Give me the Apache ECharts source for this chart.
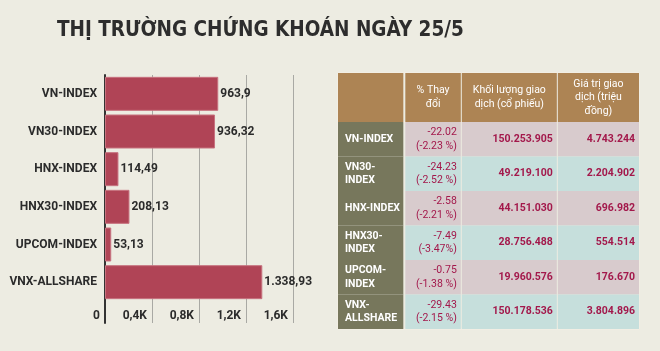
<!DOCTYPE html>
<html>
<head>
<meta charset="utf-8">
<script src="https://cdn.jsdelivr.net/npm/echarts@6/dist/echarts.min.js"></script>
<style>
html,body{margin:0;padding:0;background:#edece2;}
#main{width:660px;height:351px;}
</style>
</head>
<body>
<div id="main"></div>
<script>
var title = 'THỊ TRƯỜNG CHỨNG KHOÁN NGÀY 25/5';

// bar chart
var indexNames = ['VN-INDEX', 'VN30-INDEX', 'HNX-INDEX', 'HNX30-INDEX', 'UPCOM-INDEX', 'VNX-ALLSHARE'];
var indexValues = [963.9, 936.32, 114.49, 208.13, 53.13, 1338.93];
var axisMax = 1600, axisStep = 400;

// table
var tableHeads = ['', '% Thay\nđổi', 'Khối lượng giao\ndịch (cổ phiếu)', 'Giá trị giao\ndịch (triệu\nđồng)'];
var rowNames = ['VN-INDEX', 'VN30-\nINDEX', 'HNX-INDEX', 'HNX30-\nINDEX', 'UPCOM-\nINDEX', 'VNX-\nALLSHARE'];
var changes = ['-22.02\n(-2.23 %)', '-24.23\n(-2.52 %)', '-2.58\n(-2.21 %)', '-7.49\n(-3.47%)', '-0.75\n(-1.38 %)', '-29.43\n(-2.15 %)'];
var volumes = ['150.253.905', '49.219.100', '44.151.030', '28.756.488', '19.960.576', '150.178.536'];
var tradeValues = ['4.743.244', '2.204.902', '696.982', '554.514', '176.670', '3.804.896'];

var colEdges = [0, 0.217, 0.408, 0.727, 1]; // column split of the table width

// narrow face for the title if one is installed
var ctx = document.createElement('canvas').getContext('2d');
function hasFont(name) {
    var probe = 'THỊ TRƯỜNG abcWmi 0123';
    ctx.font = 'bold 40px monospace';
    var a = ctx.measureText(probe).width;
    ctx.font = 'bold 40px "' + name + '", monospace';
    return ctx.measureText(probe).width != a;
}
var NARROW = ['Liberation Sans Narrow', 'DejaVu Sans Condensed', 'Roboto Condensed', 'Open Sans Condensed', 'Roboto']
    .filter(hasFont)[0] || 'Roboto';
var TFONT = '"' + NARROW + '", sans-serif';
var FONT = 'Roboto, "Noto Sans", sans-serif';

// font size that makes a sample string as wide as in the picture
function fitSize(font, sample, weight, width, minSize, maxSize) {
    ctx.font = weight + ' 20px ' + font;
    var s = 20 * width / ctx.measureText(sample).width;
    return Math.max(minSize, Math.min(maxSize, Math.round(s * 2) / 2));
}
var titleSize = fitSize(TFONT, title, 'bold', 406, 20, 32);
var catSize = fitSize(FONT, 'VN-INDEX', 'bold', 55, 12, 14);
var valSize = fitSize(FONT, '1.338,93', 'bold', 47, 12, 14);
var tickSize = fitSize(FONT, '0,4K', 'bold', 24.5, 12, 14);
var rowSize = fitSize(FONT, 'VN-INDEX', 'bold', 45, 10.5, 12);
var numSize = fitSize(FONT, '150.253.905', 'bold', 55, 10.5, 12);
var chgSize = fitSize(FONT, '(-2.23 %)', 'normal', 40, 10.5, 12);
var headSize = fitSize(FONT, 'Khối lượng giao', 'normal', 67, 10.5, 12);

// 1338.93 -> "1.338,93"
function vnNum(v) {
    var parts = String(v).split('.');
    var intPart = parts[0].replace(/\B(?=(\d{3})+(?!\d))/g, '.');
    return parts.length > 1 ? intPart + ',' + parts[1] : intPart;
}

function kLabel(v) {
    if (v == 0) return '0';
    return String(v / 1000).replace('.', ',') + 'K';
}

var headCells = [], bodyCells = [];
tableHeads.forEach(function (h, i) { headCells.push([i, 0]); });
rowNames.forEach(function (n, r) {
    bodyCells.push([0, r], [1, r], [2, r], [3, r]);
});
var bodyText = function (c, r) {
    return [rowNames, changes, volumes, tradeValues][c][r];
};

function makeCell(isHead) {
    return function (params, api) {
        var cs = params.coordSys;
        var c = api.value(0), r = api.value(1);
        var cy = api.coord([0, r])[1];
        var h = api.size([0, 1])[1];
        var x0 = cs.x + cs.width * colEdges[c];
        var x1 = cs.x + cs.width * colEdges[c + 1];
        var gap = c == 0 ? 0 : (c == 1 ? 2 : 1);
        var fill, txt, tx, align, color, weight, size;
        if (isHead) {
            fill = '#ad8454';
            txt = tableHeads[c];
            tx = (x0 + gap + x1) / 2;
            align = 'center'; color = '#fff'; weight = 'normal'; size = headSize;
        } else {
            fill = c == 0 ? '#77775c' : (r % 2 == 0 ? '#d8cbcd' : '#c6dfdc');
            txt = bodyText(c, r);
            if (c == 0) {
                tx = x0 + 7; align = 'left'; color = '#fff'; weight = 'bold'; size = rowSize;
            } else {
                tx = x1 - 4; align = 'right'; color = '#a3184b';
                weight = c == 1 ? 'normal' : 'bold';
                size = c == 1 ? chgSize : numSize;
            }
        }
        return {
            type: 'group',
            children: [{
                type: 'rect',
                shape: {x: x0 + gap, y: cy - h / 2, width: x1 - x0 - gap, height: h},
                style: {fill: fill}
            }, {
                type: 'text',
                style: {
                    x: tx, y: cy, text: txt,
                    align: align, verticalAlign: 'middle',
                    fill: color, font: weight + ' ' + size + 'px ' + FONT, lineHeight: 13.5
                }
            }]
        };
    };
}

var chart = echarts.init(document.getElementById('main'));

var option = {
    backgroundColor: '#edece2',
    animation: false,
    title: {
        text: title,
        left: 57,
        top: 33 - titleSize * 0.62,
        padding: 0,
        textStyle: {fontFamily: TFONT, fontSize: titleSize, fontWeight: 'bold', color: '#2d2d2d'}
    },
    grid: [
        {left: 105, width: 188, top: 75, height: 226},
        {left: 105, width: 188, top: 301, height: 22},
        {left: 338, width: 301, top: 73, height: 49, show: true, borderColor: '#f6f0e6', borderWidth: 1},
        {left: 338, width: 301, top: 122, height: 207, show: true, borderColor: '#f6f0e6', borderWidth: 1}
    ],
    xAxis: [
        {
            gridIndex: 0, type: 'value', min: 0, max: axisMax, interval: axisStep,
            axisLine: {show: false}, axisTick: {show: false}, axisLabel: {show: false},
            splitLine: {lineStyle: {color: '#a9a9a4', width: 1}}
        },
        {
            gridIndex: 1, type: 'value', min: 0, max: axisMax, interval: axisStep, position: 'top',
            axisLine: {show: false}, axisTick: {show: false},
            axisLabel: {
                inside: true, margin: 9, align: 'right', padding: [0, 5, 0, 0],
                formatter: kLabel, color: '#2b2b2b', fontFamily: FONT, fontSize: tickSize, fontWeight: 'bold'
            },
            splitLine: {lineStyle: {color: '#a9a9a4', width: 1}}
        },
        {gridIndex: 2, type: 'value', min: 0, max: 1, show: false},
        {gridIndex: 3, type: 'value', min: 0, max: 1, show: false}
    ],
    yAxis: [
        {
            gridIndex: 0, type: 'category', inverse: true, data: indexNames,
            axisLine: {lineStyle: {color: '#333', width: 2}}, axisTick: {show: false},
            axisLabel: {margin: 8, color: '#2b2b2b', fontFamily: FONT, fontSize: catSize, fontWeight: 'bold'}
        },
        {
            gridIndex: 1, type: 'category', data: [''],
            axisLine: {lineStyle: {color: '#333', width: 2}}, axisTick: {show: false}, axisLabel: {show: false}
        },
        {gridIndex: 2, type: 'category', data: [''], show: false},
        {gridIndex: 3, type: 'category', inverse: true, data: rowNames, show: false}
    ],
    series: [
        {
            type: 'bar', xAxisIndex: 0, yAxisIndex: 0,
            data: indexValues, barWidth: 34,
            itemStyle: {color: '#b04456', borderColor: '#c7727f', borderWidth: 1},
            label: {
                show: true, position: 'right', distance: 2,
                formatter: function (p) { return vnNum(p.value); },
                color: '#2b2b2b', fontFamily: FONT, fontSize: valSize, fontWeight: 'bold'
            }
        },
        {
            type: 'custom', xAxisIndex: 2, yAxisIndex: 2,
            data: headCells, renderItem: makeCell(true)
        },
        {
            type: 'custom', xAxisIndex: 3, yAxisIndex: 3,
            data: bodyCells, renderItem: makeCell(false)
        }
    ]
};

chart.setOption(option);
</script>
</body>
</html>
